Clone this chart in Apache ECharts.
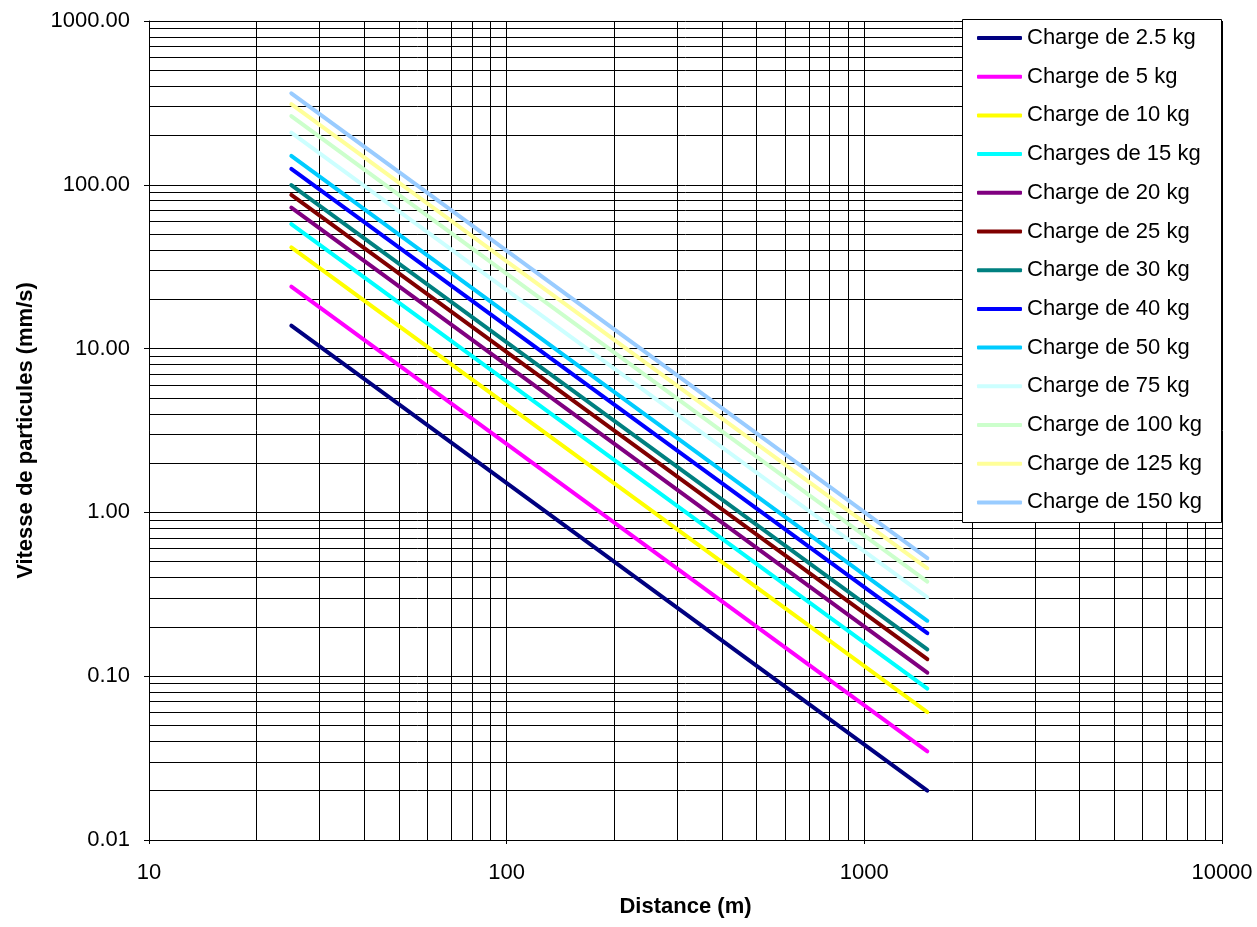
<!DOCTYPE html>
<html>
<head>
<meta charset="utf-8">
<script src="https://cdn.jsdelivr.net/npm/echarts@6/dist/echarts.min.js"></script>
<style>
html,body{margin:0;padding:0;background:#fff;}
#chart{width:1257px;height:927px;}
</style>
</head>
<body>
<div id="chart"></div>
<script>
// Distances (m) at which each curve is drawn
const distances = [25, 1500];
// Series names
const seriesNames = ["Charge de 2.5 kg","Charge de 5 kg","Charge de 10 kg","Charges de 15 kg","Charge de 20 kg","Charge de 25 kg","Charge de 30 kg","Charge de 40 kg","Charge de 50 kg","Charge de 75 kg","Charge de 100 kg","Charge de 125 kg","Charge de 150 kg"];
// Particle velocity (mm/s) at 25 m
const velocityAt25 = [13.8, 23.9, 41.5, 57.6, 72.5, 86.7, 99.7, 125, 150, 208, 263, 311, 362];
// Particle velocity (mm/s) at 1500 m
const velocityAt1500 = [0.0200, 0.0348, 0.0604, 0.0839, 0.105, 0.127, 0.146, 0.183, 0.218, 0.303, 0.378, 0.456, 0.525];
// Colours
const seriesColors = ["#000080","#FF00FF","#FFFF00","#00FFFF","#800080","#800000","#008080","#0000FF","#00CCFF","#CCFFFF","#CCFFCC","#FFFF99","#99CCFF"];
// Minor grid values
const xMinor = [20,30,40,50,60,70,80,90,200,300,400,500,600,700,800,900,2000,3000,4000,5000,6000,7000,8000,9000];
const yMinor = [0.02,0.03,0.04,0.05,0.06,0.07,0.08,0.09,0.2,0.3,0.4,0.5,0.6,0.7,0.8,0.9,2,3,4,5,6,7,8,9,20,30,40,50,60,70,80,90,200,300,400,500,600,700,800,900];

const FONT = '"Liberation Sans", Arial, sans-serif';
const chart = echarts.init(document.getElementById('chart'), null, {renderer:'canvas'});

const gridLineStyle = {color:'#000', width:1, type:'solid'};
const minorSeries = {
  name: '__grid',
  type: 'line',
  z: 1,
  silent: true,
  symbol: 'none',
  lineStyle: {opacity: 0},
  data: [[10, 1]],
  markLine: {
    z: 1,
    silent: true,
    animation: false,
    symbol: ['none','none'],
    label: {show:false},
    emphasis: {disabled: true},
    lineStyle: gridLineStyle,
    data: xMinor.map(v => ({xAxis: v})).concat(yMinor.map(v => ({yAxis: v})))
  }
};

const series = [minorSeries].concat(seriesNames.map((n, i) => ({
  name: n,
  type: 'line',
  z: 3,
  symbol: 'none',
  showSymbol: false,
  color: seriesColors[i],
  lineStyle: {width: 4, color: seriesColors[i], cap: 'round'},
  data: distances.map((d, j) => [d, j === 0 ? velocityAt25[i] : velocityAt1500[i]])
})));

chart.setOption({
  animation: false,
  backgroundColor: '#fff',
  textStyle: {fontFamily: FONT},
  grid: {left: 149, right: 35, top: 21, bottom: 87, containLabel: false},
  xAxis: {
    type: 'log', logBase: 10, min: 10, max: 10000,
    splitNumber: 3,
    name: 'Distance (m)',
    nameLocation: 'middle',
    nameGap: 56,
    nameTextStyle: {fontFamily: FONT, fontSize: 22, fontWeight: 'bold', color: '#000'},
    axisLine: {show: true, onZero: false, lineStyle: {color: '#000', width: 1}},
    axisTick: {show: true, inside: false, length: 4, lineStyle: {color: '#000'}},
    axisLabel: {fontFamily: FONT, fontSize: 22, color: '#000', margin: 22, formatter: v => String(Math.round(v))},
    splitLine: {show: true, lineStyle: gridLineStyle}
  },
  yAxis: {
    type: 'log', logBase: 10, min: 0.01, max: 1000,
    splitNumber: 5,
    name: 'Vitesse de particules (mm/s)',
    nameLocation: 'middle',
    nameRotate: 90,
    nameGap: 112,
    nameTextStyle: {fontFamily: FONT, fontSize: 22, fontWeight: 'bold', color: '#000'},
    axisLine: {show: true, onZero: false, lineStyle: {color: '#000', width: 1}},
    axisTick: {show: true, inside: false, length: 5, lineStyle: {color: '#000'}},
    axisLabel: {fontFamily: FONT, fontSize: 22, color: '#000', margin: 19, formatter: v => Number(v).toFixed(2)},
    splitLine: {show: true, lineStyle: gridLineStyle}
  },
  legend: {
    z: 20,
    orient: 'vertical',
    left: 977,
    top: 27,
    padding: 0,
    icon: 'roundRect',
    itemWidth: 45,
    itemHeight: 4,
    itemGap: 16.7,
    selectedMode: false,
    data: seriesNames,
    textStyle: {fontFamily: FONT, fontSize: 22, lineHeight: 22, color: '#000'}
  },
  graphic: [{
    type: 'rect',
    z: 10,
    silent: true,
    shape: {x: 962.5, y: 19.5, width: 259, height: 503},
    style: {fill: '#fff', stroke: '#000', lineWidth: 1}
  }],
  series: series
});
</script>
</body>
</html>
